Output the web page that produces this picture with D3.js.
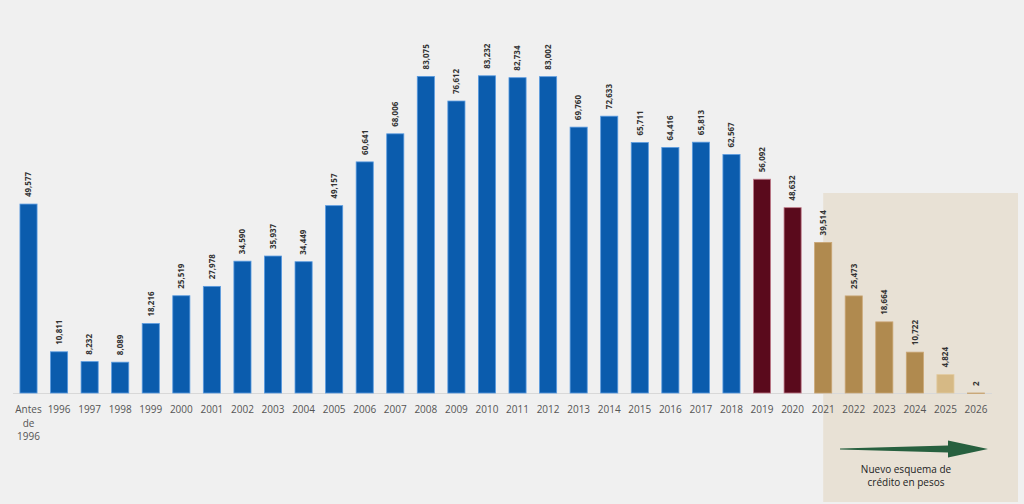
<!DOCTYPE html>
<html><head><meta charset="utf-8">
<script src="https://cdn.jsdelivr.net/npm/d3@7"></script>
<style>
html,body{margin:0;padding:0;background:#f0f0f0;}
svg{display:block;}
</style></head>
<body>
<svg id="chart" width="1024" height="504"></svg>
<script>
const categories = ["Antes de 1996","1996","1997","1998","1999","2000","2001","2002","2003","2004","2005","2006","2007","2008","2009","2010","2011","2012","2013","2014","2015","2016","2017","2018","2019","2020","2021","2022","2023","2024","2025","2026"];
const values = [49577,10811,8232,8089,18216,25519,27978,34590,35937,34449,49157,60641,68006,83075,76612,83232,82734,83002,69760,72633,65711,64416,65813,62567,56092,48632,39514,25473,18664,10722,4824,2];
const groups = ["hist","hist","hist","hist","hist","hist","hist","hist","hist","hist","hist","hist","hist","hist","hist","hist","hist","hist","hist","hist","hist","hist","hist","hist","recent","recent","new","new","new","new","last","new"];
const noteLines = ["Nuevo esquema de","crédito en pesos"];

const fills = {hist:"#0b5cad", recent:"#5a0a1c", new:"#b08a4f", last:"#d6b985"};
const strokes = {hist:"#5a9be0", recent:"#c07a8a", new:"#caa674", last:"#e2cba0"};

const data = categories.map((c,i)=>({cat:c, v:values[i], g:groups[i]}));
const svg = d3.select("#chart");

const x = d3.scaleBand().domain(categories).range([6.5, 998]).padding(0.44);
const y = d3.scaleLinear().domain([0, 90000]).range([393, 50]);

// shaded region for new scheme
const bx0 = x("2021") + x.bandwidth()/2;
svg.append("rect").attr("x", bx0).attr("y", 193).attr("width", 1018 - bx0).attr("height", 309)
  .attr("fill", "#e8e1d5");

// baseline
svg.append("line").attr("x1", 13).attr("x2", 992).attr("y1", y(0)+0.5).attr("y2", y(0)+0.5)
  .attr("stroke", "#d8d8d8").attr("stroke-width", 1);

// bars
svg.append("g").selectAll("rect").data(data).join("rect")
  .attr("x", d=>x(d.cat)).attr("width", x.bandwidth())
  .attr("y", d=>y(d.v)).attr("height", d=>Math.max(0.5, y(0)-y(d.v)))
  .attr("fill", d=>fills[d.g]).attr("stroke", d=>strokes[d.g]).attr("stroke-width", 0.8);

// value labels
const fmt = d3.format(",");
svg.append("g").selectAll("text").data(data).join("text")
  .attr("transform", d=>`translate(${x(d.cat)+x.bandwidth()/2},${y(d.v)-7}) rotate(-90)`)
  .attr("dy", "0.35em")
  .attr("font-family", "Open Sans, sans-serif").attr("font-size", 8).attr("font-weight", 700)
  .attr("fill", "#333").text(d=>fmt(d.v));

// x axis labels
const tl = svg.append("g").selectAll("text").data(categories).join("text")
  .attr("x", d=>x(d)+x.bandwidth()/2).attr("y", 413)
  .attr("text-anchor", "middle")
  .attr("font-family", "Open Sans, sans-serif").attr("font-size", 10).attr("fill", "#555");
tl.each(function(d){
  const t = d3.select(this);
  const parts = d === "Antes de 1996" ? ["Antes","de","1996"] : [d];
  parts.forEach((p,i)=> t.append("tspan").attr("x", x(d)+x.bandwidth()/2).attr("dy", i?13.5:0).text(p));
});

// arrow
const ay = 449;
svg.append("path")
  .attr("d", `M840,${ay-0.6} L948,${ay-3.5} L948,${ay-8.5} L988,${ay} L948,${ay+8.5} L948,${ay+3.5} L840,${ay+0.6} Z`)
  .attr("fill", "#27603f");

// note
svg.append("g").selectAll("text").data(noteLines).join("text")
  .attr("x", 906).attr("y", (d,i)=>473 + i*13)
  .attr("text-anchor", "middle")
  .attr("font-family", "Open Sans, sans-serif").attr("font-size", 10).attr("fill", "#222")
  .text(d=>d);
</script>
</body></html>
